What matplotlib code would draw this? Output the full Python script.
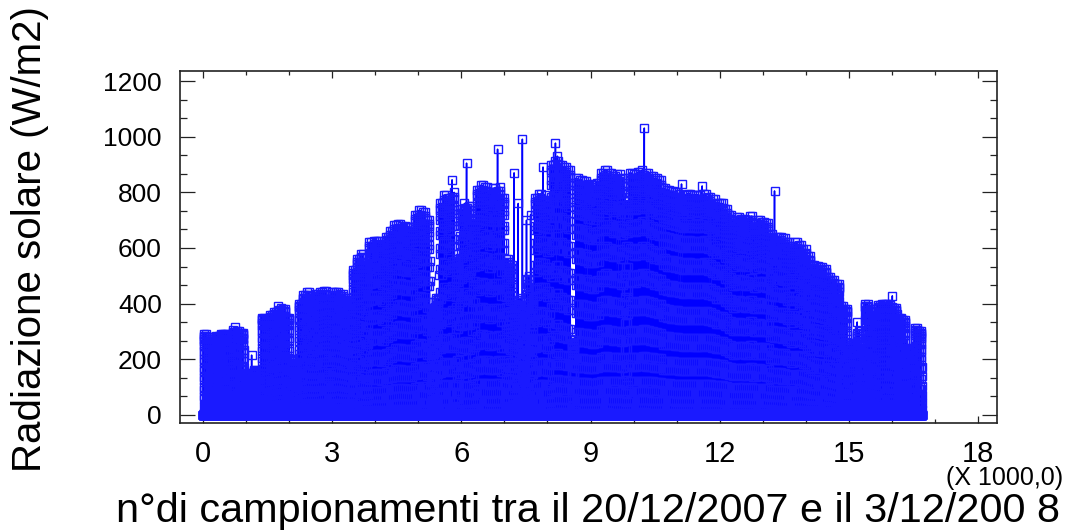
import matplotlib
matplotlib.use("Agg")
import matplotlib.pyplot as plt
import numpy as np
from matplotlib.ticker import MultipleLocator

plt.rcParams["font.family"] = ["Liberation Sans", "DejaVu Sans"]

# half-hourly samples, 20/12/2007 .. 3/12/2008
SAMPLES_PER_DAY = 48
DAYS_PER_SLOT = 2
PEAK_SLOT = 25

# peak radiation (W/m2) of each pair of days
slot_peak = [
    290, 280, 265, 285, 292, 290, 288, 305, 300, 295,
    150, 130, 160, 150, 350, 345, 360, 370, 385, 380,
    350, 200, 180, 400, 430, 440, 420, 435, 440, 445,
    415, 440, 440, 435, 420, 410, 520, 560, 580, 545,
    620, 626, 625, 615, 640, 660, 683, 685, 680, 675,
    675, 720, 735, 730, 700, 380, 420, 760, 790, 780,
    800, 560, 740, 760, 750, 700, 810, 826, 820, 800,
    815, 820, 780, 560, 540, 400, 420, 380, 500, 420,
    780, 795, 790, 770, 900, 930, 900, 890, 880, 260,
    850, 845, 840, 830, 825, 835, 870, 880, 868, 860,
    865, 850, 770, 870, 865, 872, 880, 870, 860, 850,
    845, 815, 808, 805, 800, 795, 790, 795, 790, 792,
    790, 795, 785, 775, 760, 760, 740, 720, 700, 710,
    705, 700, 715, 690, 700, 695, 690, 650, 640, 640,
    635, 620, 600, 620, 610, 595, 570, 540, 535, 530,
    525, 495, 485, 470, 390, 380, 250, 260, 300, 255,
    400, 380, 360, 395, 400, 400, 395, 385, 350, 340,
    230, 240, 312, 300,
]

# isolated single-sample spikes above the envelope (day index, W/m2)
spike_day = [15, 23, 36, 120, 127, 142, 150, 152, 154, 156, 158, 164, 170,
             213, 231, 241, 276, 316, 333]
spike_value = [315, 215, 390, 845, 905, 955, 870, 760, 991, 700, 720, 891, 977,
               1031, 830, 823, 805, 334, 428]

# fraction of the daily peak at each half hour (morning and afternoon differ)
day_shape = [0, 0, 0, 0, 0, 0, 0, 0, 0, 0, 0, 0, 0, 0,
             0.03, 0.10, 0.20, 0.31, 0.43, 0.55, 0.66, 0.76, 0.85, 0.92, 0.97,
             1.0,
             0.98, 0.94, 0.87, 0.79, 0.69, 0.58, 0.47, 0.35, 0.24, 0.14, 0.06, 0.01,
             0, 0, 0, 0, 0, 0, 0, 0, 0, 0]

x_ticks = [0, 3, 6, 9, 12, 15, 18]
y_ticks = [0, 200, 400, 600, 800, 1000, 1200]


def build_series():
    peaks = np.repeat(slot_peak, DAYS_PER_SLOT)
    values = np.outer(peaks, day_shape)
    for d, v in zip(spike_day, spike_value):
        values[d, PEAK_SLOT] = v
    values = values.ravel()
    return np.arange(values.size) / 1000.0, values


def main():
    x, y = build_series()

    fig = plt.figure(figsize=(10.74, 5.32), dpi=100)
    ax = fig.add_axes([0.1676, 0.2049, 0.7607, 0.6616])

    ax.plot(x, y, color="#0000ff", linewidth=1.1, marker="s", markersize=5.8,
            markerfacecolor="none", markeredgecolor="#1a1aff", markeredgewidth=1.0)

    ax.set_xlim(-0.534, 18.44)
    ax.set_ylim(-29, 1236)
    ax.set_xticks(x_ticks)
    ax.set_yticks(y_ticks)
    ax.xaxis.set_minor_locator(MultipleLocator(1))
    ax.yaxis.set_minor_locator(MultipleLocator(200 / 3))

    ax.tick_params(axis="both", which="both", direction="in", top=True, right=True,
                   color="#222222", width=0.9)
    ax.tick_params(axis="x", which="major", length=5, labelsize=21, pad=12)
    ax.tick_params(axis="x", which="minor", length=3)
    ax.tick_params(axis="y", which="major", length=10.8, labelsize=19, pad=13)
    ax.tick_params(axis="y", which="minor", length=5)
    for s in ax.spines.values():
        s.set_color("#222222")
        s.set_linewidth(1.2)

    fig.text(0.028, 0.5508, "Radiazione solare (W/m2)", rotation=90,
             ha="center", va="center", fontsize=29)
    fig.text(588 / 1074, 0.018, "n°di campionamenti tra il 20/12/2007 e il 3/12/200 8",
             ha="center", va="baseline", fontsize=29.8)
    fig.text(0.9898, 0.088, "(X 1000,0)", ha="right", va="baseline", fontsize=18)

    fig.savefig("out.png", dpi=100)
    plt.close(fig)


if __name__ == "__main__":
    main()
